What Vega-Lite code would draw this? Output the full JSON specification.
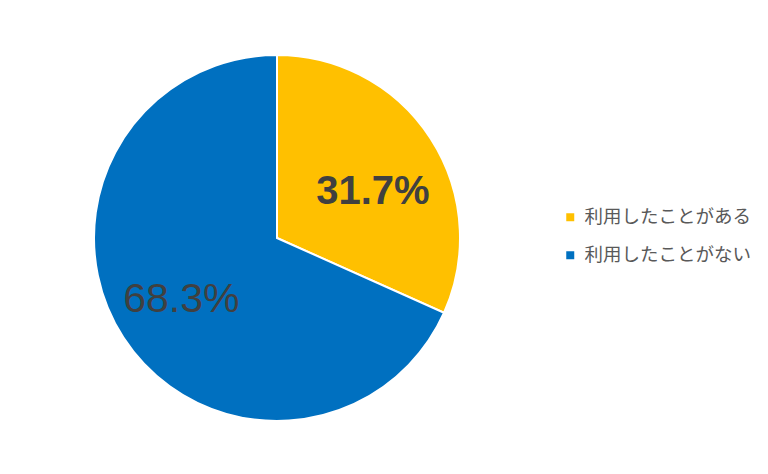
{
  "$schema": "https://vega.github.io/schema/vega-lite/v6.json",
  "autosize": "none",
  "width": 366,
  "height": 366,
  "padding": {"left": 94, "top": 55, "right": 308, "bottom": 53},
  "background": "#ffffff",
  "config": {"view": {"stroke": null}},
  "data": {"values": [
    {"category": "利用したことがある", "value": 31.7, "label": "31.7%", "order": 1},
    {"category": "利用したことがない", "value": 68.3, "label": "68.3%", "order": 2}
  ]},
  "encoding": {
    "theta": {"field": "value", "type": "quantitative", "stack": true},
    "order": {"field": "order", "type": "quantitative"}
  },
  "layer": [
    {
      "mark": {"type": "arc", "stroke": "#ffffff", "strokeWidth": 2},
      "encoding": {
        "color": {
          "field": "category", "type": "nominal",
          "scale": {"domain": ["利用したことがある", "利用したことがない"], "range": ["#FFC000", "#0070C0"]},
          "legend": {
            "title": null, "orient": "none", "legendX": 467, "legendY": 153,
            "symbolType": "square", "symbolSize": 64, "symbolStrokeWidth": 0,
            "labelFont": "Noto Sans CJK JP", "labelFontSize": 18.5, "labelColor": "#595959",
            "labelOffset": 5, "rowPadding": 19, "labelLimit": 400
          }
        }
      }
    },
    {
      "mark": {"type": "text", "radius": 106, "dx": 7, "dy": 12, "font": "Liberation Sans", "fontSize": 40, "fontWeight": "bold", "fill": "#404040"},
      "encoding": {
        "text": {"field": "label"},
        "opacity": {"condition": {"test": "datum.order == 1", "value": 1}, "value": 0}
      }
    },
    {
      "mark": {"type": "text", "radius": 114, "font": "Liberation Sans", "fontSize": 41, "fill": "#404040"},
      "encoding": {
        "text": {"field": "label"},
        "opacity": {"condition": {"test": "datum.order == 2", "value": 1}, "value": 0}
      }
    }
  ]
}
